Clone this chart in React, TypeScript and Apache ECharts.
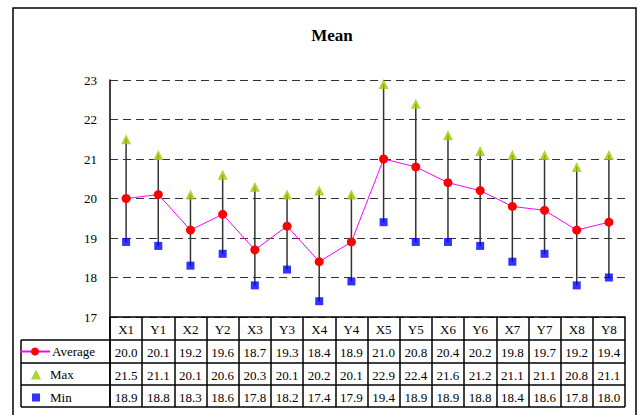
import React, { useEffect, useRef } from "react";
import * as echarts from "echarts";

const categories = ["X1", "Y1", "X2", "Y2", "X3", "Y3", "X4", "Y4", "X5", "Y5", "X6", "Y6", "X7", "Y7", "X8", "Y8"];
const averageValues = [20.0, 20.1, 19.2, 19.6, 18.7, 19.3, 18.4, 18.9, 21.0, 20.8, 20.4, 20.2, 19.8, 19.7, 19.2, 19.4];
const maxValues = [21.5, 21.1, 20.1, 20.6, 20.3, 20.1, 20.2, 20.1, 22.9, 22.4, 21.6, 21.2, 21.1, 21.1, 20.8, 21.1];
const minValues = [18.9, 18.8, 18.3, 18.6, 17.8, 18.2, 17.4, 17.9, 19.4, 18.9, 18.9, 18.8, 18.4, 18.6, 17.8, 18.0];
const yTicks = { min: 17, max: 23, interval: 1 };

const FONT = "Liberation Serif";

export default function App() {
  const ref = useRef<HTMLDivElement>(null);
  useEffect(() => {
    if (!ref.current) return;
    const chart = echarts.init(ref.current, null, { renderer: "svg" });
    const gridLeft = 110;
    const gridRight = 625;
    const gridTop = 80;
    const gridBottom = 317;
    const rowLines = [340, 363, 385, 407];
    const labelStyle = { fontFamily: FONT, fontSize: 13, color: "#000" };
    const dataAxis = (vals: number[], offset: number) => ({
      type: "category",
      data: categories,
      gridIndex: 0,
      position: "bottom",
      offset,
      axisLine: { show: false },
      axisTick: { show: false },
      axisLabel: { ...labelStyle, margin: 6, formatter: (_v: string, i: number) => vals[i].toFixed(1) },
      splitLine: { show: false },
    });
    const legendText = { fontFamily: FONT, fontSize: 13, color: "#000" };
    const graphics: any[] = [
      {
        type: "rect",
        shape: { x: 13, y: 8, width: 623, height: 430 },
        style: { fill: "none", stroke: "#000", lineWidth: 1.5 },
        silent: true,
      },
      ...rowLines.map((y) => ({
        type: "line",
        shape: { x1: 21, y1: y, x2: gridRight, y2: y },
        style: { stroke: "#000", lineWidth: 1.5 },
      })),
      {
        type: "line",
        shape: { x1: 21, y1: rowLines[0], x2: 21, y2: rowLines[3] },
        style: { stroke: "#000", lineWidth: 1.5 },
      },
      {
        type: "line",
        shape: { x1: gridLeft, y1: gridBottom, x2: gridLeft, y2: rowLines[3] },
        style: { stroke: "#000", lineWidth: 1.5 },
      },
    ];
    chart.setOption({
      animation: false,
      backgroundColor: "#fff",
      title: {
        text: "Mean",
        left: 327,
        textAlign: "center",
        top: 22,
        textStyle: { fontFamily: FONT, fontSize: 17, fontWeight: "bold", color: "#000" },
      },
      legend: [
        {
          data: ["Average"],
          left: 19,
          top: 345,
          padding: 0,
          itemWidth: 30,
          itemHeight: 10,
          itemGap: 0,
          textStyle: { ...legendText, padding: [0, 0, 0, -3] },
          selectedMode: false,
        },
        {
          data: [{ name: "Max", icon: "triangle" }],
          left: 31,
          top: 368,
          padding: 0,
          itemWidth: 10,
          itemHeight: 10,
          textStyle: { ...legendText, padding: [0, 0, 0, 4] },
          selectedMode: false,
        },
        {
          data: [{ name: "Min", icon: "rect" }],
          left: 32,
          top: 391,
          padding: 0,
          itemWidth: 8,
          itemHeight: 8,
          textStyle: { ...legendText, padding: [0, 0, 0, 5] },
          selectedMode: false,
        },
      ],
      grid: { left: gridLeft, top: gridTop, width: gridRight - gridLeft, height: gridBottom - gridTop },
      xAxis: [
        {
          type: "category",
          data: categories,
          axisLine: { show: true, lineStyle: { color: "#000", width: 1.5 } },
          axisTick: { show: true, length: 90, lineStyle: { color: "#000", width: 1.5 } },
          axisLabel: { ...labelStyle, margin: 6 },
          splitLine: { show: false },
        },
        dataAxis(averageValues, 23),
        dataAxis(maxValues, 46),
        dataAxis(minValues, 68),
      ],
      yAxis: {
        type: "value",
        min: yTicks.min,
        max: yTicks.max,
        interval: yTicks.interval,
        axisLine: { show: true, lineStyle: { color: "#000", width: 1.5 } },
        axisTick: { show: false },
        axisLabel: { ...labelStyle, margin: 13 },
        splitLine: { show: true, lineStyle: { color: "#333", type: [8, 5], width: 1 } },
      },
      series: [
        {
          name: "Range",
          type: "custom",
          data: categories.map((_, i) => [i, minValues[i], maxValues[i]]),
          renderItem: (_params: any, api: any) => {
            const lo = api.coord([api.value(0), api.value(1)]);
            const hi = api.coord([api.value(0), api.value(2)]);
            return {
              type: "line",
              shape: { x1: lo[0], y1: lo[1], x2: hi[0], y2: hi[1] },
              style: { stroke: "#333", lineWidth: 1.5 },
            };
          },
          z: 1,
        },
        {
          name: "Average",
          type: "line",
          data: averageValues,
          symbol: "circle",
          symbolSize: 9,
          itemStyle: { color: "#ff0000" },
          lineStyle: { color: "#ff00ff", width: 1 },
          z: 3,
        },
        {
          name: "Max",
          type: "scatter",
          data: maxValues,
          symbol: "triangle",
          symbolSize: 10,
          itemStyle: { color: "#99cc00" },
          z: 3,
        },
        {
          name: "Min",
          type: "scatter",
          data: minValues,
          symbol: "rect",
          symbolSize: 8,
          itemStyle: { color: "#0000ff" },
          z: 3,
        },
      ],
      graphic: graphics,
    });
    return () => chart.dispose();
  }, []);
  return <div ref={ref} style={{ position: "fixed", left: 0, top: 0, width: 641, height: 415 }} />;
}
